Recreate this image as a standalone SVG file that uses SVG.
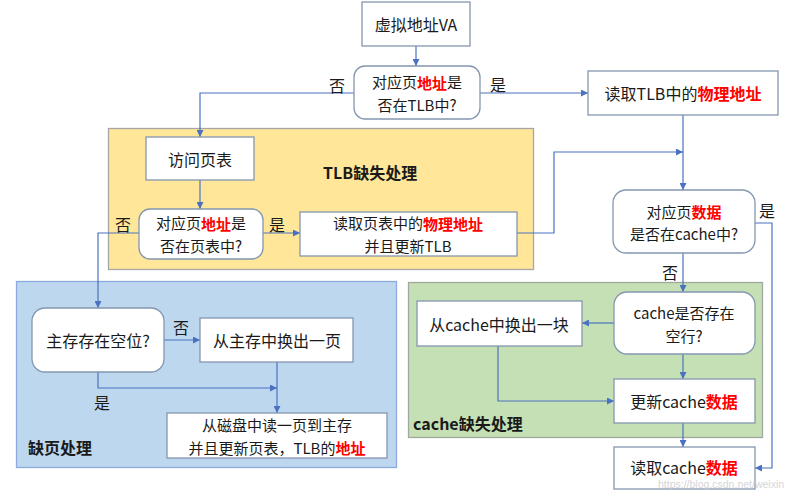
<svg xmlns="http://www.w3.org/2000/svg" width="792" height="491" viewBox="0 0 792 491">
<style>
text{font-family:"Noto Sans CJK SC","Microsoft YaHei",sans-serif;font-size:16px;fill:#1a1a1a;dominant-baseline:central;text-anchor:middle}
.ml{font-size:15px}
.box{fill:#fff;stroke:#8497b0;stroke-width:1.3}
.red{fill:#ff0000;font-weight:bold}
.lbl{font-weight:bold;text-anchor:start}
.con{fill:none;stroke:#4a72c0;stroke-width:1.2}
.wm{font-family:"Liberation Sans",sans-serif;font-size:10.5px;fill:#cfcfcf;text-anchor:start;opacity:0.85}
</style>
<defs>
<marker id="ah" viewBox="0 0 10 10" refX="10" refY="5" markerWidth="7" markerHeight="7" markerUnits="userSpaceOnUse" orient="auto">
<path d="M0,0 L10,5 L0,10 z" fill="#4a72c0"/>
</marker>
</defs>
<g id="regions">
<rect id="tlb-miss" x="108.5" y="128.5" width="425" height="141" fill="#ffe699" stroke="#a6a6a6" stroke-width="1.3"/>
<text class="lbl" x="323" y="172">TLB缺失处理</text>
<rect id="page-fault" x="16.5" y="281.5" width="380" height="186" fill="#bdd7ee" stroke="#8faadc" stroke-width="1.3"/>
<text class="lbl" x="28" y="447">缺页处理</text>
<rect id="cache-miss" x="408.5" y="282.5" width="354" height="155" fill="#c5e0b4" stroke="#a0a8a0" stroke-width="1.3"/>
<text class="lbl" x="413" y="423">cache缺失处理</text>
</g>
<g id="connectors">
<path class="con" d="M416,46 V66" marker-end="url(#ah)"/>
<path class="con" d="M354,93 H200 V137" marker-end="url(#ah)"/>
<path class="con" d="M480,93 H588" marker-end="url(#ah)"/>
<path class="con" d="M200,180 V209" marker-end="url(#ah)"/>
<path class="con" d="M263,233 H300" marker-end="url(#ah)"/>
<path class="con" d="M139,233 H98 V308" marker-end="url(#ah)"/>
<path class="con" d="M517,233 H554 V152 H683" marker-end="url(#ah)"/>
<path class="con" d="M683,115 V190" marker-end="url(#ah)"/>
<path class="con" d="M683,253 V292" marker-end="url(#ah)"/>
<path class="con" d="M755,223 H772 V468 H755" marker-end="url(#ah)"/>
<path class="con" d="M614,323 H582" marker-end="url(#ah)"/>
<path class="con" d="M683,354 V379" marker-end="url(#ah)"/>
<path class="con" d="M498,346 V401 H614" marker-end="url(#ah)"/>
<path class="con" d="M683,423 V447" marker-end="url(#ah)"/>
<path class="con" d="M164,340 H200" marker-end="url(#ah)"/>
<path class="con" d="M98,372 V388 H277" marker-end="url(#ah)"/>
<path class="con" d="M277,362 V413" marker-end="url(#ah)"/>
<text x="337" y="85">否</text>
<text x="498" y="84">是</text>
<text x="123" y="224">否</text>
<text x="277" y="224">是</text>
<text x="767" y="210">是</text>
<text x="670" y="272">否</text>
<text x="181" y="327">否</text>
<text x="102" y="402">是</text>
</g>
<g id="n-va"><rect class="box" x="362" y="2" width="108" height="44"/><text x="416" y="24">虚拟地址VA</text></g>
<g id="n-in-tlb"><rect class="box" x="354" y="66" width="126" height="53" rx="11"/><text class="ml" x="417" y="81.5">对应页<tspan class="red">地址</tspan>是</text><text class="ml" x="417" y="104">否在TLB中?</text></g>
<g id="n-read-tlb"><rect class="box" x="588" y="71" width="190" height="44"/><text x="683" y="93">读取TLB中的<tspan class="red">物理地址</tspan></text></g>
<g id="n-visit-pt"><rect class="box" x="146" y="137" width="108" height="43"/><text x="200" y="159">访问页表</text></g>
<g id="n-in-pt"><rect class="box" x="139" y="209" width="124" height="50" rx="11"/><text class="ml" x="201" y="222.5">对应页<tspan class="red">地址</tspan>是</text><text class="ml" x="201" y="245">否在页表中?</text></g>
<g id="n-read-pt"><rect class="box" x="300" y="212" width="217" height="44"/><text class="ml" x="408" y="222.5">读取页表中的<tspan class="red">物理地址</tspan></text><text class="ml" x="408" y="245">并且更新TLB</text></g>
<g id="n-in-cache"><rect class="box" x="613" y="190" width="142" height="63" rx="13"/><text class="ml" x="684" y="211">对应页<tspan class="red">数据</tspan></text><text class="ml" x="684" y="233.5">是否在cache中?</text></g>
<g id="n-cache-free"><rect class="box" x="614" y="292" width="141" height="62" rx="13"/><text class="ml" x="684" y="312.5">cache是否存在</text><text class="ml" x="684" y="335">空行?</text></g>
<g id="n-evict-block"><rect class="box" x="417" y="301" width="165" height="45"/><text x="499" y="324">从cache中换出一块</text></g>
<g id="n-update-cache"><rect class="box" x="614" y="379" width="141" height="44"/><text x="684" y="401">更新cache<tspan class="red">数据</tspan></text></g>
<g id="n-read-cache"><rect class="box" x="614" y="447" width="141" height="42"/><text x="684" y="467">读取cache<tspan class="red">数据</tspan></text></g>
<g id="n-mem-free"><rect class="box" x="32" y="308" width="132" height="64" rx="13"/><text x="98" y="340">主存存在空位?</text></g>
<g id="n-evict-page"><rect class="box" x="200" y="318" width="153" height="44"/><text x="277" y="340">从主存中换出一页</text></g>
<g id="n-load-page"><rect class="box" x="167" y="413" width="220" height="45"/><text class="ml" x="277" y="424.5">从磁盘中读一页到主存</text><text class="ml" x="277" y="447">并且更新页表，TLB的<tspan class="red">地址</tspan></text></g>
<text class="wm" x="658" y="484">https://blog.csdn.net/weixin</text>
</svg>
